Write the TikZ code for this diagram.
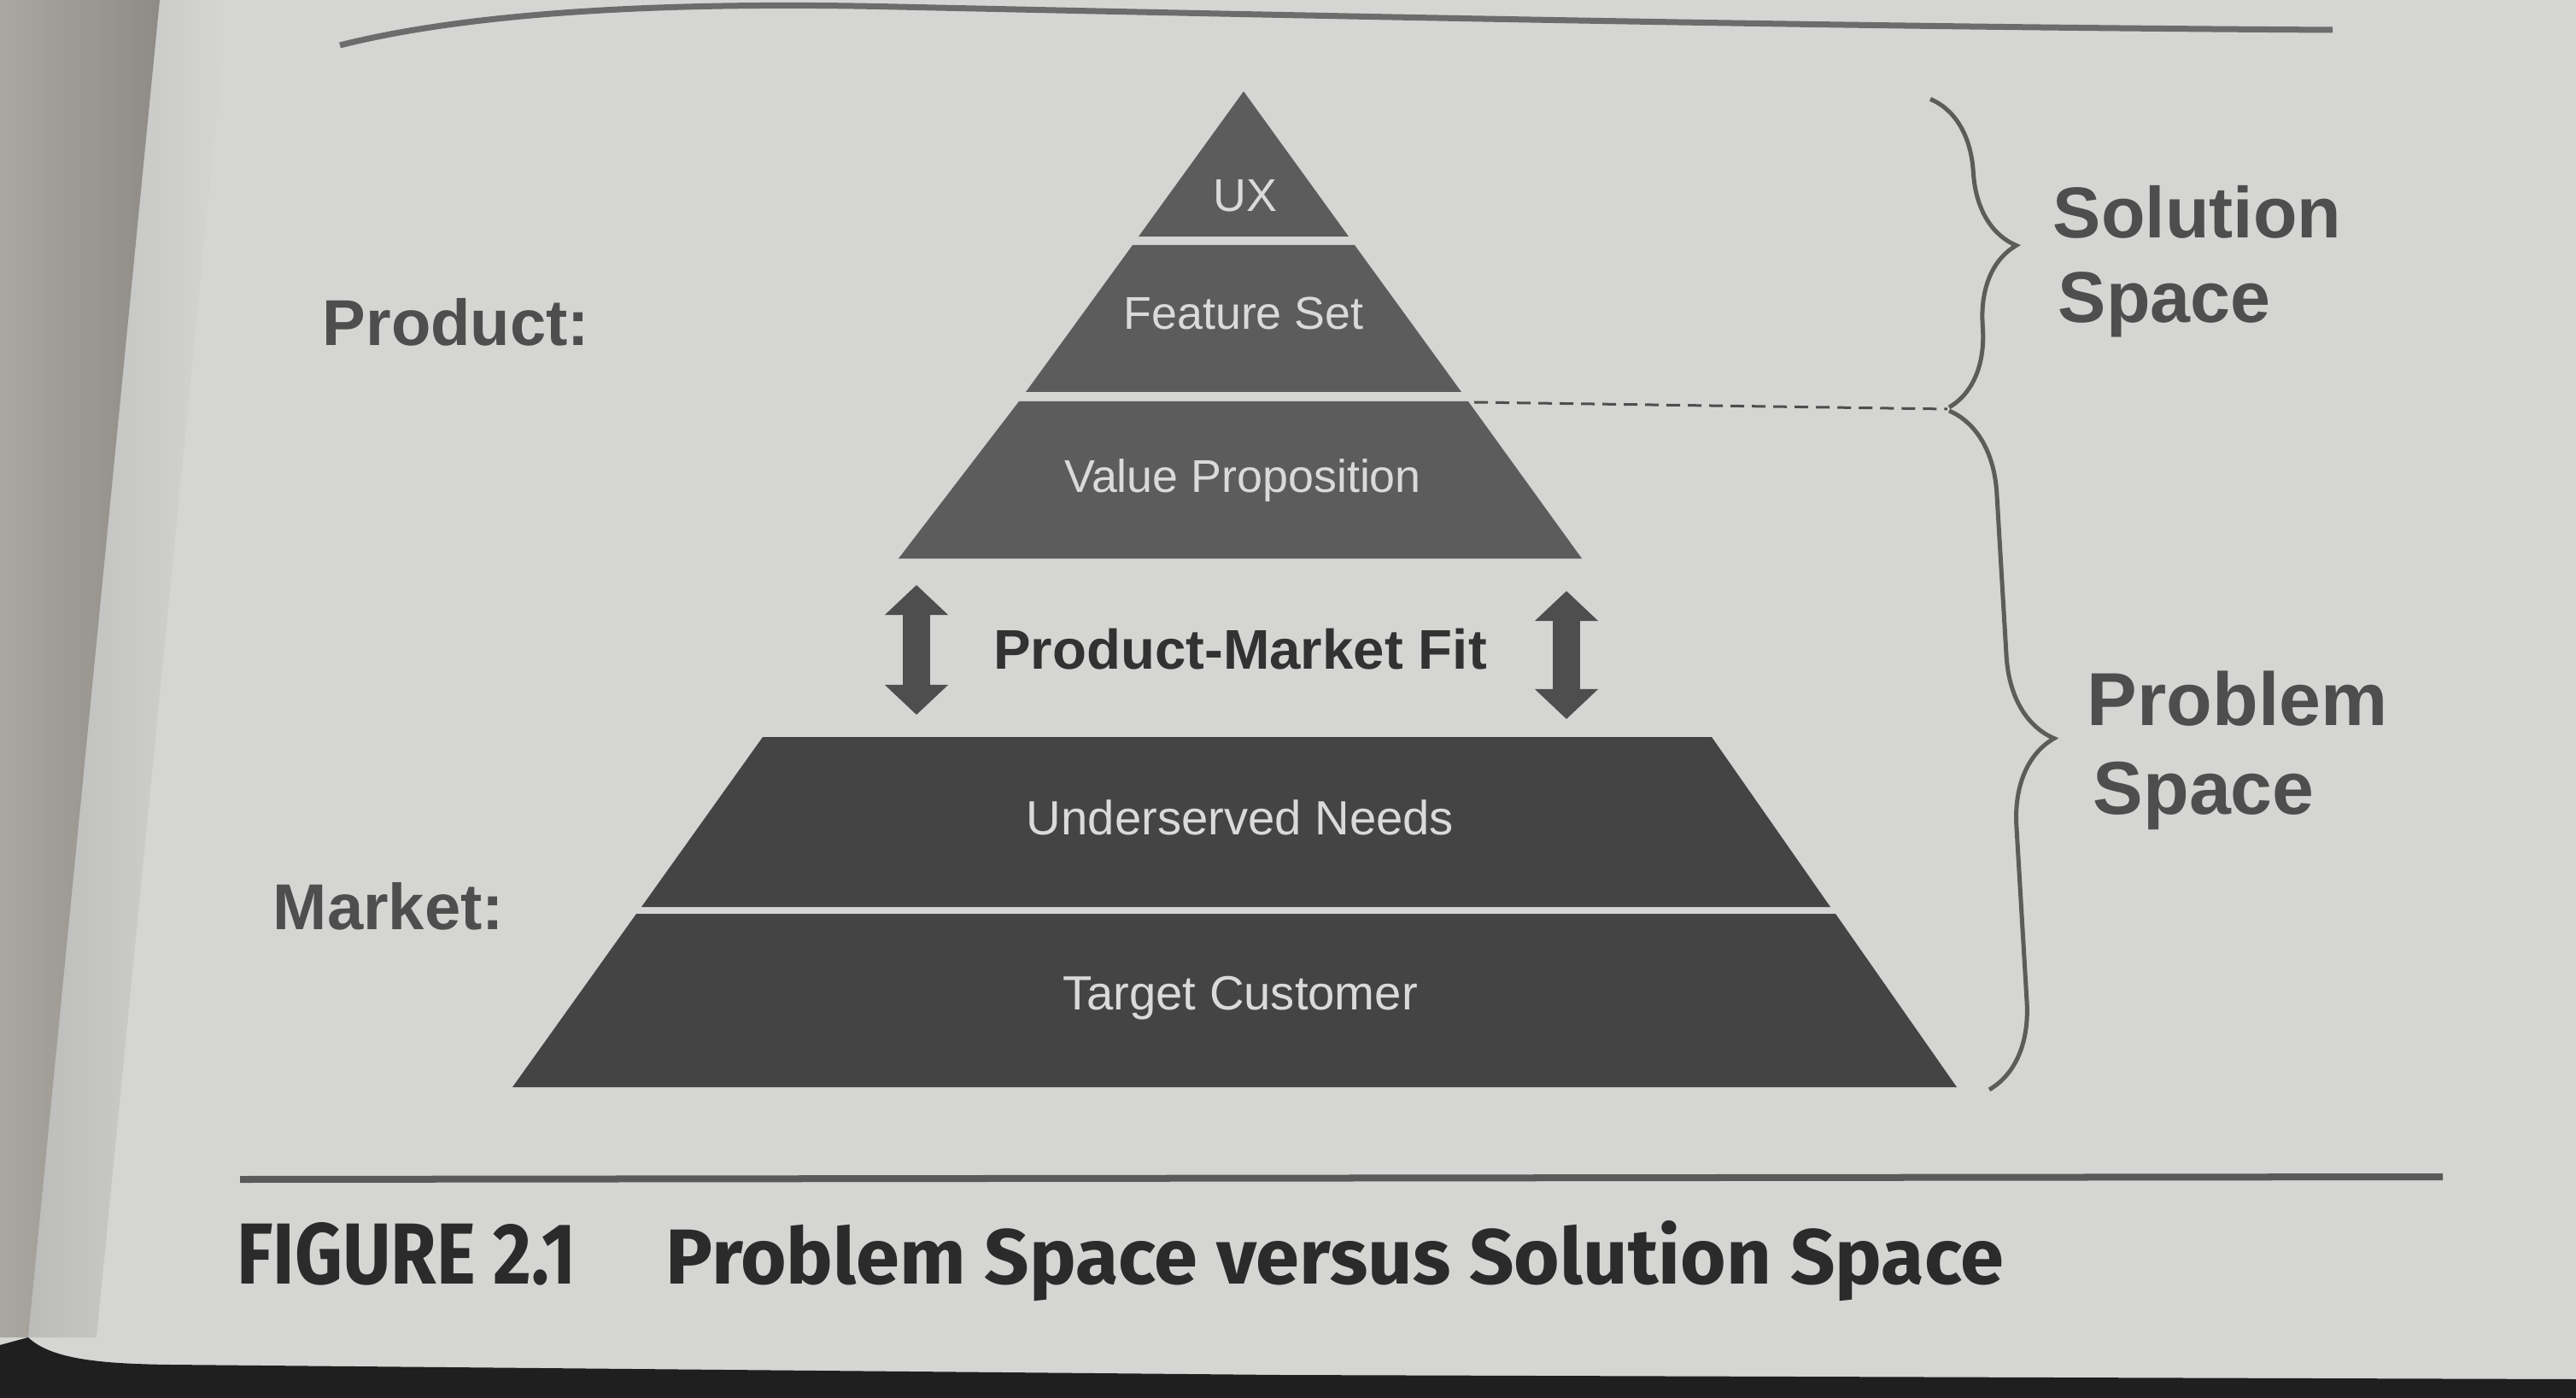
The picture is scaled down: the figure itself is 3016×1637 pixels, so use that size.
\documentclass[tikz,border=0pt]{standalone}
\usepackage{graphicx}
\usepackage{fontspec}
\setmainfont{Liberation Sans}
\newfontfamily\capfont{Fira Sans}
\usetikzlibrary{arrows.meta,decorations.pathreplacing}
\definecolor{paper}{HTML}{D5D5D3}
\definecolor{facing}{HTML}{ABA8A2}
\definecolor{facingdark}{HTML}{8E8B86}
\definecolor{pyrup}{HTML}{5C5C5C}
\definecolor{pyrlow}{HTML}{444444}
\definecolor{pyrtext}{HTML}{DADADA}
\definecolor{inkgray}{HTML}{4E4E4E}
\definecolor{capink}{HTML}{2B2B2B}
\definecolor{rulegray}{HTML}{5A5A5A}
\tikzset{
  layertext/.style={text=pyrtext, inner sep=0pt, anchor=base, font=\fontsize{15.3pt}{18pt}\selectfont},
  lowlayertext/.style={layertext, font=\fontsize{16pt}{19pt}\selectfont},
  sidelabel/.style={text=inkgray, inner sep=0pt, anchor=base, font=\bfseries\fontsize{21.6pt}{26pt}\selectfont},
  spacelabel/.style={text=inkgray, inner sep=0pt, anchor=base west, font=\bfseries\fontsize{24pt}{29pt}\selectfont},
  bigspacelabel/.style={spacelabel, font=\bfseries\fontsize{25pt}{30pt}\selectfont},
  fitlabel/.style={text=capink!80!inkgray, inner sep=0pt, anchor=base, font=\bfseries\fontsize{18.6pt}{22pt}\selectfont},
  fitarrow/.style={draw=inkgray, line width=0.32cm, {Triangle[width=0.72cm,length=0.35cm]}-{Triangle[width=0.72cm,length=0.35cm]}},
  spacebrace/.style={draw=inkgray!90!paper, line width=0.05cm, decorate},
  dashline/.style={draw=inkgray, line width=0.03cm, dash pattern=on 0.16cm off 0.09cm},
  hrule/.style={draw=rulegray, line width=0.08cm},
  captext/.style={text=capink, inner sep=0pt, anchor=base west, font=\capfont\bfseries},
}
\begin{document}
\begin{tikzpicture}[x=0.01cm,y=-0.01cm]
\useasboundingbox (0,0) rectangle (3016,1637);
% paper and photo surroundings
\fill[paper] (0,0) rectangle (3016,1637);
\shade[left color=paper!88!black, right color=paper] (187,0) -- (267,0) -- (113,1566) -- (33,1566) -- cycle;
\shade[left color=facing, right color=facingdark] (0,0) -- (187,0) -- (33,1566) -- (0,1566) -- cycle;
\fill[black!88] (0,1637) -- (0,1575) -- (33,1566) .. controls (60,1592) and (120,1597) .. (200,1598) -- (1500,1610) -- (3016,1615) -- (3016,1637) -- cycle;
% rules
\draw[hrule, draw=rulegray!85!paper, line width=0.07cm] (398,53) .. controls (560,12) and (800,2) .. (1050,8) .. controls (1600,20) and (2200,32) .. (2731,35);
\draw[hrule] (281,1381) -- (2860,1378);
% upper pyramid
\fill[pyrup] (1456,107) -- (1579,277) -- (1333,277) -- cycle;
\fill[pyrup] (1326,287) -- (1586,287) -- (1711,459) -- (1201,459) -- cycle;
\fill[pyrup] (1193,470) -- (1719,470) -- (1852,654) -- (1052,654) -- cycle;
% lower trapezoid
\fill[pyrlow] (893,863) -- (2004,863) -- (2143,1062) -- (751,1062) -- cycle;
\fill[pyrlow] (745,1070) -- (2149,1070) -- (2291,1273) -- (600,1273) -- cycle;
% layer labels
\node[layertext] (ux) at (1458,248) {UX};
\node[layertext] (feat) at (1456,386) {Feature Set};
\node[layertext] (vp) at (1455,577) {Value Proposition};
\node[lowlayertext] (un) at (1452,977) {Underserved Needs};
\node[lowlayertext] (tc) at (1452,1182) {Target Customer};
% product-market fit
\coordinate (la1) at (1073,685); \coordinate (la2) at (1073,837);
\coordinate (ra1) at (1834,692); \coordinate (ra2) at (1834,842);
\draw[fitarrow] (la1) -- (la2);
\draw[fitarrow] (ra1) -- (ra2);
\node[fitlabel] (pmf) at (1452,783) {Product-Market Fit};
% side labels
\node[sidelabel] (prod) at (534,405) {Product:};
\node[sidelabel] (mkt) at (455,1088) {Market:};
% braces and space labels
\coordinate (sb1) at (2260,116); \coordinate (sb2) at (2282,477);
\coordinate (pb1) at (2282,481); \coordinate (pb2) at (2329,1276);
\draw[spacebrace, decoration={brace,amplitude=0.9cm,aspect=0.49}] (sb1) -- (sb2);
\draw[spacebrace, decoration={brace,amplitude=1.0cm,aspect=0.49}] (pb1) -- (pb2);
\coordinate (dA) at (1726,471); \coordinate (dB) at (2280,479);
\draw[dashline] (dA) -- (dB);
\node[spacelabel] (sol1) at (2403,279) {Solution};
\node[spacelabel] (sol2) at (2409,378) {Space};
\node[bigspacelabel] (prob1) at (2443,849) {Problem};
\node[bigspacelabel] (prob2) at (2450,953) {Space};
% caption
\node[captext] (fig) at (277,1503) {\resizebox{3.97cm}{0.72cm}{FIGURE 2.1}};
\node[captext] (title) at (779,1503) {\resizebox{15.65cm}{0.74cm}{Problem Space versus Solution Space}};
\end{tikzpicture}
\end{document}
